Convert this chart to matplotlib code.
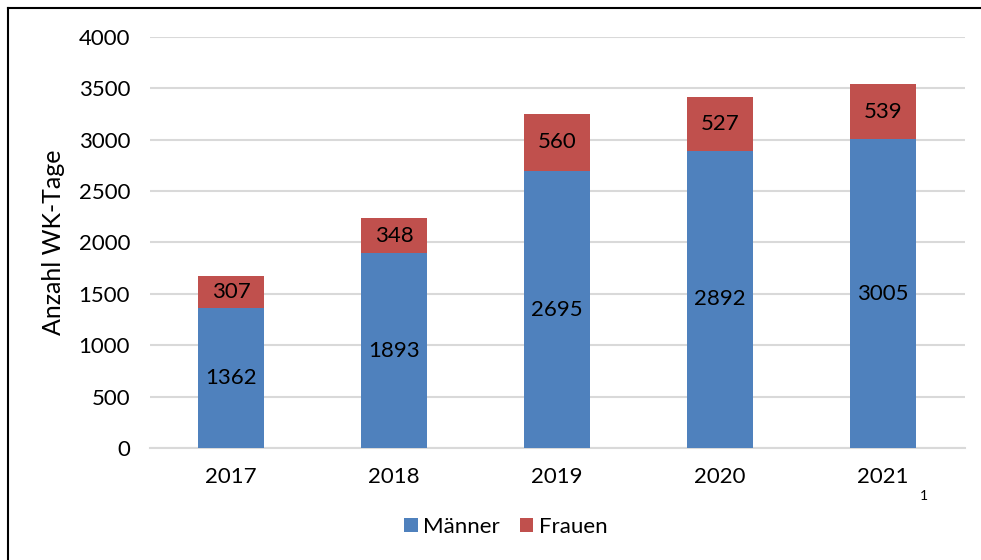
import matplotlib.pyplot as plt
from matplotlib.lines import Line2D

plt.rcParams['font.family'] = ['Lato', 'DejaVu Sans']

years = ['2017', '2018', '2019', '2020', '2021']
maenner = [1362, 1893, 2695, 2892, 3005]
frauen = [307, 348, 560, 527, 539]

blue = '#4F81BD'
red = '#C0504D'

fig = plt.figure(figsize=(9.81, 5.6), dpi=100)
ax = fig.add_axes([0.1524, 0.2, 0.8308, 0.734])

x = range(len(years))
ax.bar(x, maenner, width=0.4, color=blue, label='Männer', zorder=3)
ax.bar(x, frauen, width=0.4, bottom=maenner, color=red, label='Frauen', zorder=3)

# value labels in the middle of each segment
for i in x:
    ax.text(i, maenner[i] / 2, str(maenner[i]), ha='center', va='center', fontsize=16, zorder=4)
    ax.text(i, maenner[i] + frauen[i] / 2, str(frauen[i]), ha='center', va='center', fontsize=16, zorder=4)

ax.set_xlim(-0.5, len(years) - 0.5)
ax.set_ylim(0, 4000)
ax.set_yticks(range(0, 4001, 500))
ax.set_xticks(list(x))
ax.set_xticklabels(years)
ax.tick_params(axis='both', length=0, labelsize=16)
ax.tick_params(axis='y', pad=14)
ax.tick_params(axis='x', pad=14)
ax.yaxis.grid(color='#D9D9D9', linewidth=1.5, zorder=0)
for s in ['top', 'right', 'left']:
    ax.spines[s].set_visible(False)
ax.spines['bottom'].set_color('#D9D9D9')
ax.spines['bottom'].set_linewidth(1.5)
ax.set_ylabel('Anzahl WK-Tage', fontsize=18, labelpad=10)

# footnote marker next to 2021
fig.text(924 / 981, 1 - 496 / 560, '1', fontsize=10, ha='center', va='center')

ax.legend(loc='center', bbox_to_anchor=(506 / 981, 1 - 527 / 560), bbox_transform=fig.transFigure,
          ncol=2, frameon=False, fontsize=16, handlelength=0.6, handleheight=0.6,
          handletextpad=0.25, columnspacing=0.9)

# frame lines (left and top only)
fig.add_artist(Line2D([8 / 981, 8 / 981], [0, 1 - 8 / 560], color='black', linewidth=1.5))
fig.add_artist(Line2D([8 / 981, 1], [1 - 8 / 560, 1 - 8 / 560], color='black', linewidth=1.5))

fig.savefig('out.png', dpi=100)
